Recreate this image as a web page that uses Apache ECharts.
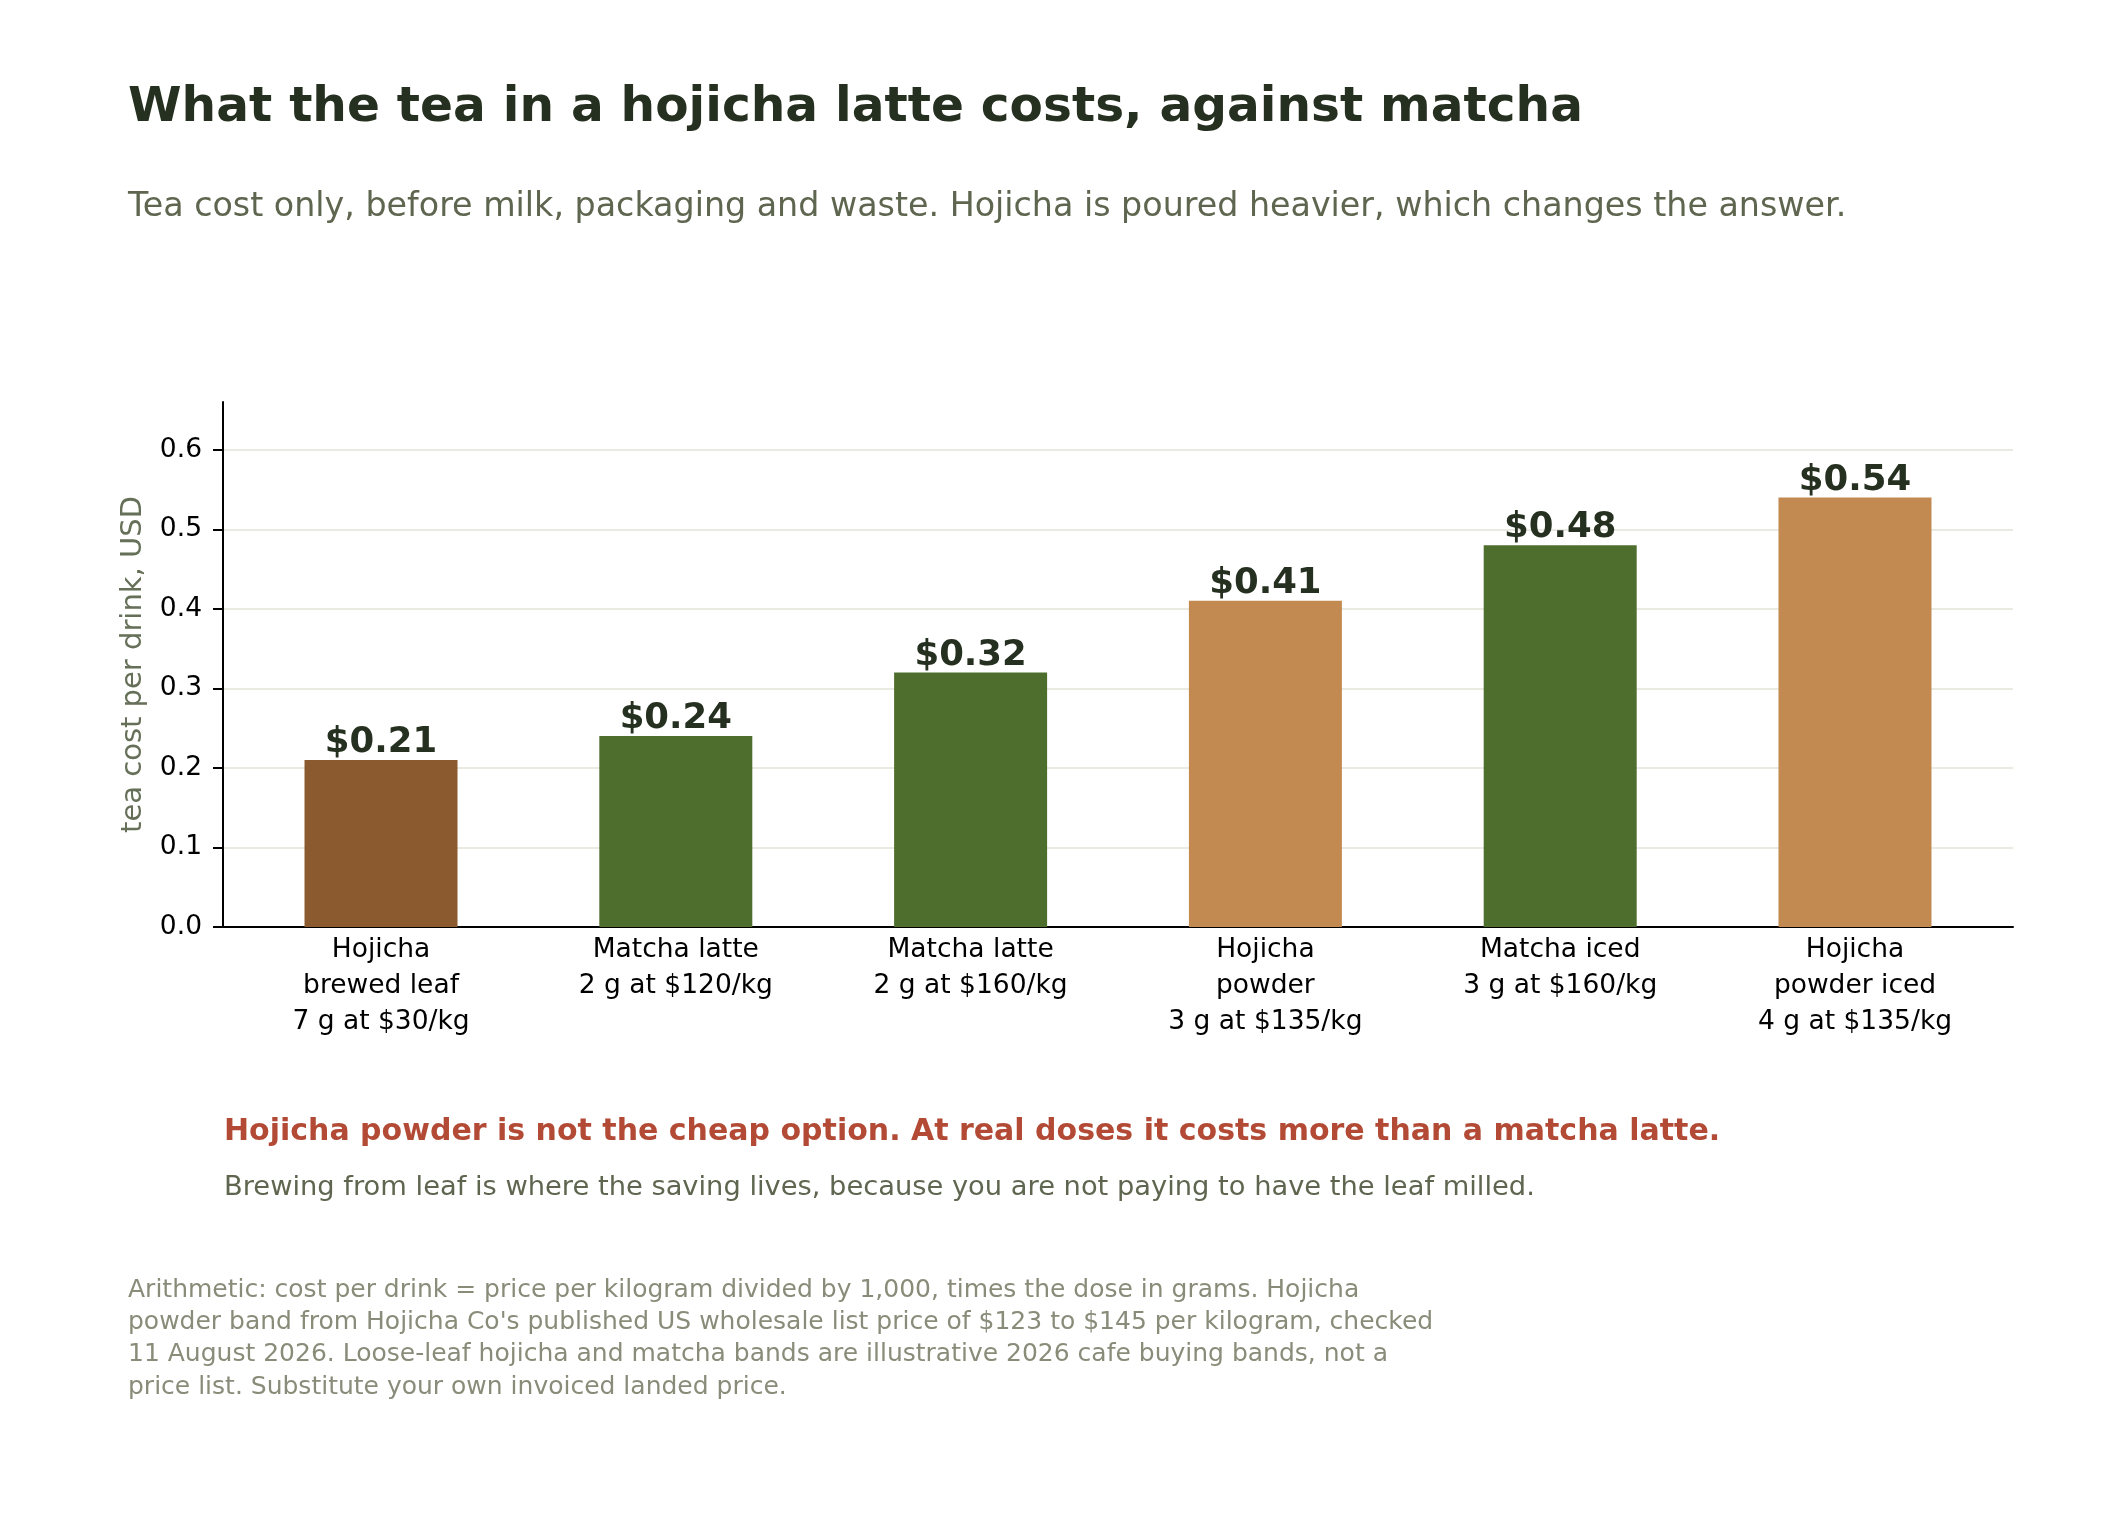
<!DOCTYPE html>
<html>
<head>
<meta charset="utf-8">
<title>Hojicha latte tea cost</title>
<script src="https://cdn.jsdelivr.net/npm/echarts@6/dist/echarts.min.js"></script>
<style>
  html, body { margin: 0; padding: 0; background: #fff; }
  #chart { width: 2120px; height: 1520px; }
</style>
</head>
<body>
<div id="chart"></div>
<script>
// 数据
const categories = [
  'Hojicha\nbrewed leaf\n7 g at $30/kg',
  'Matcha latte\n2 g at $120/kg',
  'Matcha latte\n2 g at $160/kg',
  'Hojicha\npowder\n3 g at $135/kg',
  'Matcha iced\n3 g at $160/kg',
  'Hojicha\npowder iced\n4 g at $135/kg'
];
const teaTypes = ['leaf', 'matcha', 'matcha', 'powder', 'matcha', 'powder'];
const costs = [0.21, 0.24, 0.32, 0.41, 0.48, 0.54];
const yTicks = [0, 0.1, 0.2, 0.3, 0.4, 0.5, 0.6];

const footnoteLines = [
  'Arithmetic: cost per drink = price per kilogram divided by 1,000, times the dose in grams. Hojicha',
  "powder band from Hojicha Co's published US wholesale list price of $123 to $145 per kilogram, checked",
  '11 August 2026. Loose-leaf hojicha and matcha bands are illustrative 2026 cafe buying bands, not a',
  'price list. Substitute your own invoiced landed price.'
];

const typeColors = {
  leaf: '#8B5A2E',
  matcha: '#4E6E2E',
  powder: '#C28A51'
};

const FONT = 'DejaVu Sans';

const chart = echarts.init(document.getElementById('chart'));

const option = {
  backgroundColor: '#ffffff',
  animation: false,
  textStyle: { fontFamily: FONT },
  title: [
    {
      text: 'What the tea in a hojicha latte costs, against matcha',
      left: 128,
      top: 84,
      padding: 0,
      textStyle: { fontFamily: FONT, fontSize: 48.6, fontWeight: 'bold', color: '#263020' }
    },
    {
      text: 'Tea cost only, before milk, packaging and waste. Hojicha is poured heavier, which changes the answer.',
      left: 128,
      top: 191,
      padding: 0,
      textStyle: { fontFamily: FONT, fontSize: 33.3, fontWeight: 'normal', color: '#5F6650' }
    },
    {
      text: 'Hojicha powder is not the cheap option. At real doses it costs more than a matcha latte.',
      left: 224,
      top: 1117,
      padding: 0,
      textStyle: { fontFamily: FONT, fontSize: 30, fontWeight: 'bold', color: '#B24A35' }
    },
    {
      text: 'Brewing from leaf is where the saving lives, because you are not paying to have the leaf milled.',
      left: 224,
      top: 1174,
      padding: 0,
      textStyle: { fontFamily: FONT, fontSize: 27.3, fontWeight: 'normal', color: '#5F6650' }
    },
    {
      text: footnoteLines.join('\n'),
      left: 128,
      top: 1274,
      padding: 0,
      textStyle: { fontFamily: FONT, fontSize: 25, fontWeight: 'normal', color: '#8A8C7A', lineHeight: 32.3 }
    }
  ],
  grid: {
    left: 223,
    right: 107,
    top: 402,
    bottom: 593
  },
  xAxis: {
    type: 'value',
    min: -0.536,
    max: 5.536,
    splitLine: { show: false },
    axisTick: { show: false },
    axisLine: { show: true, onZero: false, lineStyle: { color: '#000', width: 2 } },
    axisLabel: {
      customValues: categories.map((c, i) => i),
      formatter: v => categories[Math.round(v)],
      color: '#000',
      fontFamily: FONT,
      fontSize: 26.5,
      lineHeight: 36,
      margin: 5,
      align: 'center',
      verticalAlign: 'top'
    }
  },
  yAxis: {
    type: 'value',
    min: 0,
    max: 0.66,
    name: 'tea cost per drink, USD',
    nameLocation: 'middle',
    nameGap: 75,
    nameTextStyle: { fontFamily: FONT, fontSize: 29, color: '#667058' },
    axisLine: { show: true, onZero: false, lineStyle: { color: '#000', width: 2 } },
    axisTick: {
      show: true,
      length: 10,
      customValues: yTicks,
      lineStyle: { color: '#000', width: 2 }
    },
    axisLabel: {
      customValues: yTicks,
      formatter: v => v.toFixed(1),
      color: '#000',
      fontFamily: FONT,
      fontSize: 26.5,
      margin: 21
    },
    splitLine: {
      show: true,
      lineStyle: { color: '#E3E3DA', width: 1.5 }
    }
  },
  series: [
    {
      name: 'tea cost',
      type: 'bar',
      barWidth: 153,
      data: costs.map((v, i) => ({
        value: [i, v],
        itemStyle: { color: typeColors[teaTypes[i]] }
      })),
      label: {
        show: true,
        position: 'top',
        distance: -1,
        formatter: p => '$' + p.value[1].toFixed(2),
        fontFamily: FONT,
        fontSize: 35.5,
        fontWeight: 'bold',
        color: '#263020'
      }
    }
  ]
};

chart.setOption(option);

window.addEventListener('resize', () => {
  chart.resize();
});
</script>
</body>
</html>
